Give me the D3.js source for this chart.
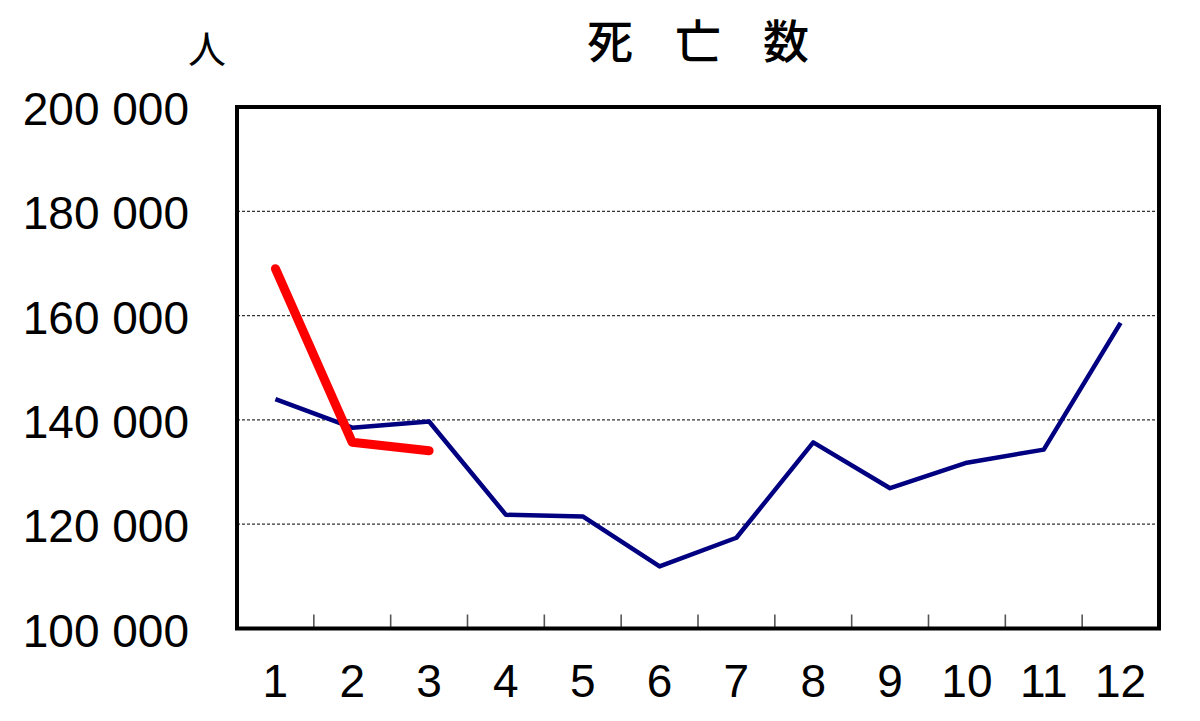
<!DOCTYPE html>
<html>
<head>
<meta charset="utf-8">
<script src="https://cdn.jsdelivr.net/npm/d3@7"></script>
<style>
  body { margin: 0; background: #fff; }
  svg { display: block; }
  .tick-label { font-family: "Liberation Sans", Arial, sans-serif; font-size: 46px; fill: #000; }
</style>
</head>
<body>
<div id="chart"></div>
<script>
// months and death counts
var months = ['1', '2', '3', '4', '5', '6', '7', '8', '9', '10', '11', '12'];
var lastYear = [144000, 138500, 139700, 121800, 121500, 111900, 117400, 135700, 126900, 131800, 134300, 158600];
var thisYear = [169000, 135700, 134100];
var yTicks = [100000, 120000, 140000, 160000, 180000, 200000];
var title = '死亡数';
var unit = '人';

var width = 1200, height = 721;
var plotL = 237, plotR = 1159, plotT = 107, plotB = 628.5;

var svg = d3.select('#chart').append('svg')
  .attr('width', width)
  .attr('height', height);

var x = d3.scaleBand().domain(months).range([plotL, plotR]);
var y = d3.scaleLinear().domain([100000, 200000]).range([plotB, plotT]);

var fmt = d3.formatLocale({ decimal: '.', thousands: ' ', grouping: [3], currency: ['', ''] }).format(',');

// grid
svg.append('g').selectAll('line.grid').data(yTicks.slice(1, -1))
  .enter().append('line')
  .attr('class', 'grid')
  .attr('x1', plotL).attr('x2', plotR)
  .attr('y1', function(d) { return y(d); })
  .attr('y2', function(d) { return y(d); })
  .attr('stroke', '#333')
  .attr('stroke-width', 1.2)
  .attr('stroke-dasharray', '3,2');

// x ticks at band edges, pointing up
var edges = months.slice(1).map(function(m) { return x(m); });
svg.append('g').selectAll('line.xtick').data(edges)
  .enter().append('line')
  .attr('x1', function(d) { return d; })
  .attr('x2', function(d) { return d; })
  .attr('y1', plotB).attr('y2', plotB - 14)
  .attr('stroke', '#555')
  .attr('stroke-width', 1.6);

// y axis labels
var yAxis = d3.axisLeft(y).tickValues(yTicks).tickFormat(fmt).tickSize(0).tickPadding(48);
var ya = svg.append('g').attr('transform', 'translate(' + plotL + ',0)').call(yAxis);
ya.select('.domain').remove();
ya.selectAll('text')
  .attr('class', 'tick-label')
  .attr('dy', '0.36em')
  .attr('y', 1);

// x axis labels
var xAxis = d3.axisBottom(x).tickSize(0).tickPadding(36);
var xa = svg.append('g').attr('transform', 'translate(0,' + plotB + ')').call(xAxis);
xa.select('.domain').remove();
xa.selectAll('text')
  .attr('class', 'tick-label')
  .attr('dy', '0.71em');

// lines
var line = d3.line()
  .x(function(d, i) { return x(months[i]) + x.bandwidth() / 2; })
  .y(function(d) { return y(d); });

svg.append('path')
  .datum(lastYear)
  .attr('d', line)
  .attr('fill', 'none')
  .attr('stroke', '#000080')
  .attr('stroke-width', 4.5)
  .attr('stroke-linejoin', 'round');

svg.append('path')
  .datum(thisYear)
  .attr('d', line)
  .attr('fill', 'none')
  .attr('stroke', '#ff0000')
  .attr('stroke-width', 9)
  .attr('stroke-linecap', 'round')
  .attr('stroke-linejoin', 'round');

// frame
svg.append('rect')
  .attr('x', plotL).attr('y', plotT)
  .attr('width', plotR - plotL).attr('height', plotB - plotT)
  .attr('fill', 'none')
  .attr('stroke', '#000')
  .attr('stroke-width', 4);

// title and unit
svg.append('text')
  .attr('x', (plotL + plotR) / 2)
  .attr('y', 58)
  .attr('dx', 21)
  .attr('text-anchor', 'middle')
  .attr('font-family', '"Noto Sans CJK JP", sans-serif')
  .attr('font-size', 46)
  .attr('font-weight', 500)
  .attr('letter-spacing', 42)
  .text(title);

svg.append('text')
  .attr('x', 207)
  .attr('y', 63)
  .attr('text-anchor', 'middle')
  .attr('font-family', '"Noto Sans CJK JP", sans-serif')
  .attr('font-size', 38)
  .text(unit);
</script>
</body>
</html>
